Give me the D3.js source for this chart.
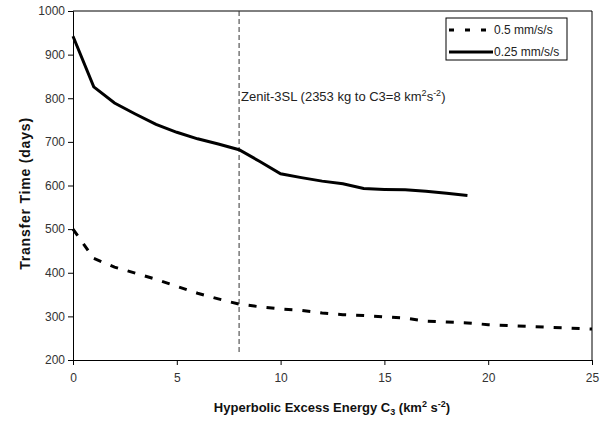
<!DOCTYPE html>
<html>
<head>
<meta charset="utf-8">
<script src="https://cdn.jsdelivr.net/npm/d3@7"></script>
<style>
  body { margin: 0; background: #fff; }
  svg { display: block; font-family: "Liberation Sans Narrow", "Liberation Sans", Arial, sans-serif; }
  .tick text { fill: #333; font-size: 12px; }
</style>
</head>
<body>
<div id="chart"></div>
<script>
// data
const c3Solid = [0, 1, 2, 3, 4, 5, 6, 7, 8, 9, 10, 11, 12, 13, 14, 15, 16, 17, 18, 19]
const timeSolid = [942, 826, 789, 764, 740, 722, 707, 695, 682, 655, 627, 618, 610, 604, 593, 591, 590, 587, 582, 577]
const c3Dashed = [0, 1, 2, 3, 4, 5, 6, 7, 8, 9, 10, 11, 12, 13, 14, 15, 16, 17, 18, 19, 20, 21, 22, 23, 24, 25]
const timeDashed = [500, 433, 413, 399, 385, 369, 353, 340, 328, 322, 317, 314, 308, 304, 302, 299, 296, 289, 287, 285, 281, 279, 277, 275, 273, 271]
const xTicks = [0, 5, 10, 15, 20, 25]
const yTicks = [200, 300, 400, 500, 600, 700, 800, 900, 1000]
const seriesNames = ['0.5 mm/s/s', '0.25 mm/s/s']
const launcherC3 = 8

const width = 605, height = 421
const margin = { top: 11, right: 13, bottom: 61, left: 73 }

const svg = d3.select('#chart').append('svg')
    .attr('width', width)
    .attr('height', height)

const x = d3.scaleLinear().domain([0, 25]).range([margin.left, width - margin.right])
const y = d3.scaleLinear().domain([200, 1000]).range([height - margin.bottom, margin.top])

// frame: top and right edges
svg.append('path')
    .attr('d', `M${x(0)},${y(1000)}H${x(25)}V${y(200)}`)
    .attr('fill', 'none')
    .attr('stroke', '#000')
    .attr('stroke-width', 1)

// axes
const xAxis = svg.append('g')
    .attr('transform', `translate(0,${y(200)})`)
    .call(d3.axisBottom(x).tickValues(xTicks).tickSize(5).tickPadding(8))
const yAxis = svg.append('g')
    .attr('transform', `translate(${x(0)},0)`)
    .call(d3.axisLeft(y).tickValues(yTicks).tickFormat(d3.format('d')).tickSize(5).tickPadding(3))
xAxis.selectAll('.domain, .tick line').attr('stroke', '#000')
yAxis.selectAll('.domain, .tick line').attr('stroke', '#000')

// launcher marker
svg.append('line')
    .attr('x1', x(launcherC3)).attr('x2', x(launcherC3))
    .attr('y1', y(1000)).attr('y2', y(215))
    .attr('stroke', '#333')
    .attr('stroke-width', 1)
    .attr('stroke-dasharray', '5,3')

const label = svg.append('text')
    .attr('x', x(launcherC3) + 2)
    .attr('y', y(793))
    .attr('font-size', 13)
    .attr('fill', '#222')
label.append('tspan').text('Zenit-3SL (2353 kg to C3=8 km')
label.append('tspan').attr('dy', -5).attr('font-size', 9).text('2')
label.append('tspan').attr('dy', 5).text('s')
label.append('tspan').attr('dy', -5).attr('font-size', 9).text('-2')
label.append('tspan').attr('dy', 5).text(')')

const line = d3.line().x(d => x(d[0])).y(d => y(d[1]))

svg.append('path')
    .datum(d3.zip(c3Dashed, timeDashed))
    .attr('d', line)
    .attr('fill', 'none')
    .attr('stroke', '#000')
    .attr('stroke-width', 3)
    .attr('stroke-dasharray', '8,10')

svg.append('path')
    .datum(d3.zip(c3Solid, timeSolid))
    .attr('d', line)
    .attr('fill', 'none')
    .attr('stroke', '#000')
    .attr('stroke-width', 3)

// legend
const legend = svg.append('g').attr('transform', 'translate(446,18)')
legend.append('rect')
    .attr('width', 121).attr('height', 42)
    .attr('fill', '#fff')
    .attr('stroke', '#000')
legend.selectAll('line.key')
    .data(seriesNames)
    .enter()
    .append('line')
    .attr('class', 'key')
    .attr('x1', 3).attr('x2', 47)
    .attr('y1', (d, i) => 12 + i * 22)
    .attr('y2', (d, i) => 12 + i * 22)
    .attr('stroke', '#000')
    .attr('stroke-width', 3)
    .attr('stroke-dasharray', (d, i) => i === 0 ? '5,11' : null)
legend.selectAll('text')
    .data(seriesNames)
    .enter()
    .append('text')
    .attr('x', 48)
    .attr('y', (d, i) => 16 + i * 22)
    .attr('font-size', 12)
    .attr('fill', '#222')
    .text(d => d)

// axis titles
svg.append('text')
    .attr('transform', `translate(30,${(y(200) + y(1000)) / 2 + 8}) rotate(-90)`)
    .attr('text-anchor', 'middle')
    .attr('font-size', 14)
    .attr('letter-spacing', 0.8)
    .attr('font-weight', 'bold')
    .attr('fill', '#111')
    .text('Transfer Time (days)')

const xt = svg.append('text')
    .attr('x', 332)
    .attr('y', 412)
    .attr('text-anchor', 'middle')
    .attr('font-size', 13)
    .attr('font-weight', 'bold')
    .attr('fill', '#111')
xt.append('tspan').text('Hyperbolic Excess Energy C')
xt.append('tspan').attr('dy', 3).attr('font-size', 9).text('3')
xt.append('tspan').attr('dy', -3).text(' (km')
xt.append('tspan').attr('dy', -5).attr('font-size', 9).text('2')
xt.append('tspan').attr('dy', 5).text(' s')
xt.append('tspan').attr('dy', -5).attr('font-size', 9).text('-2')
xt.append('tspan').attr('dy', 5).text(')')
</script>
</body>
</html>
